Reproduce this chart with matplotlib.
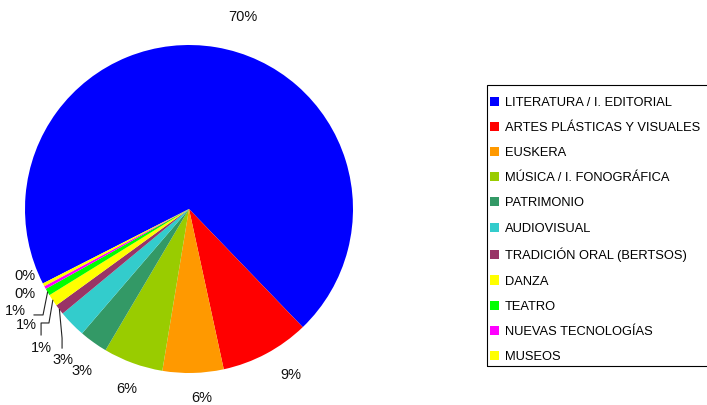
import numpy as np
import matplotlib
matplotlib.use("Agg")
import matplotlib.pyplot as plt
from matplotlib.patches import Patch, Rectangle

plt.rcParams['font.family'] = ['Liberation Sans', 'DejaVu Sans']

categories = ["LITERATURA / I. EDITORIAL", "ARTES PLÁSTICAS Y VISUALES", "EUSKERA",
              "MÚSICA / I. FONOGRÁFICA", "PATRIMONIO", "AUDIOVISUAL",
              "TRADICIÓN ORAL (BERTSOS)", "DANZA", "TEATRO", "NUEVAS TECNOLOGÍAS", "MUSEOS"]
values = [70.3, 8.8, 6.0, 5.9, 2.8, 2.7, 1.0, 1.2, 0.7, 0.3, 0.3]
colors = ["#0000FF", "#FF0000", "#FF9900", "#99CC00", "#339966", "#33CCCC",
          "#993366", "#FFFF00", "#00FF00", "#FF00FF", "#FFFF00"]

# label positions (layout, data units of the pie)
label_pos = [(0.33, 1.17), (0.62, -1.01), (0.08, -1.15), (-0.38, -1.10),
             (-0.65, -0.99), (-0.77, -0.92), (-0.90, -0.85), (-0.99, -0.71),
             (-1.06, -0.62), (-1.00, -0.52), (-1.00, -0.41)]

W, H = 707, 405
fig = plt.figure(figsize=(W / 100, H / 100), dpi=100)
cx, cy, R = 189, 209, 164
ax = fig.add_axes([(cx - R) / W, (H - cy - R) / H, 2 * R / W, 2 * R / H])
wedges, _ = ax.pie(values, colors=colors, startangle=207, counterclock=False,
                   wedgeprops=dict(linewidth=0))
ax.set_xlim(-1, 1)
ax.set_ylim(-1, 1)
ax.set_aspect('equal')
ax.axis('off')

total = sum(values)
for i, (v, w) in enumerate(zip(values, wedges)):
    x, y = label_pos[i]
    ax.text(x, y, f"{round(100 * v / total):.0f}%", ha='center', va='center',
            fontsize=10.5, color='#111111', clip_on=False)

# leader lines for the tiny slices (elbow shapes, layout)
elbows = {8: [(-0.945, -0.646), (-0.890, -0.646)],
          7: [(-0.902, -0.768), (-0.902, -0.695), (-0.854, -0.695)],
          6: [(-0.774, -0.848), (-0.774, -0.787)]}
for i, pts in elbows.items():
    w = wedges[i]
    mid = np.deg2rad((w.theta1 + w.theta2) / 2)
    xs = [p[0] for p in pts] + [np.cos(mid)]
    ys = [p[1] for p in pts] + [np.sin(mid)]
    ax.plot(xs, ys, color='#222222', lw=0.8, clip_on=False)

# legend frame drawn separately for exact placement
fig.patches.append(Rectangle((487 / W, 1 - 366 / H), 240 / W, 281 / H,
                             transform=fig.transFigure, fill=False,
                             edgecolor='black', linewidth=0.8))
handles = [Patch(facecolor=c, edgecolor='none') for c in colors]
leg = fig.legend(handles, categories, loc='upper left',
                 bbox_to_anchor=(490 / W, 1 - 96.5 / H), bbox_transform=fig.transFigure,
                 frameon=False, fontsize=9.3, labelspacing=1.02,
                 handlelength=0.7, handleheight=0.7, handletextpad=0.45,
                 borderpad=0, borderaxespad=0)

fig.savefig("out.png", dpi=100)
